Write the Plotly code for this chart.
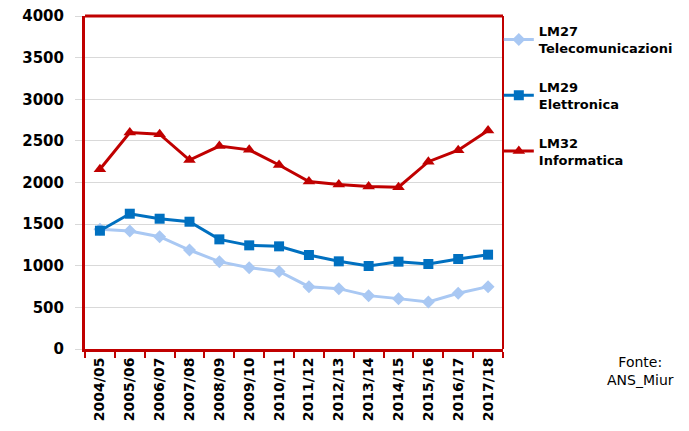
import plotly.graph_objects as go

categories = ["2004/05", "2005/06", "2006/07", "2007/08", "2008/09", "2009/10", "2010/11",
              "2011/12", "2012/13", "2013/14", "2014/15", "2015/16", "2016/17", "2017/18"]
lm27 = [1438, 1417, 1349, 1189, 1049, 977, 931, 749, 725, 641, 605, 565, 669, 749]
lm29 = [1421, 1625, 1565, 1529, 1317, 1245, 1233, 1129, 1053, 997, 1049, 1021, 1081, 1133]
lm32 = [2160, 2600, 2580, 2270, 2438, 2392, 2210, 2012, 1975, 1952, 1944, 2250, 2388, 2625]
names = ["LM27<br>Telecomunicazioni", "LM29<br>Elettronica", "LM32<br>Informatica"]

fig = go.Figure()
fig.add_trace(go.Scatter(x=categories, y=lm27, name=names[0], mode="lines+markers",
                         line=dict(color="#A9C8F3", width=3),
                         marker=dict(symbol="diamond", size=10, color="#A9C8F3"),
                         legendgroup="a"))
fig.add_trace(go.Scatter(x=categories, y=lm29, name=names[1], mode="lines+markers",
                         line=dict(color="#0070C0", width=3),
                         marker=dict(symbol="square", size=10, color="#0070C0"),
                         legendgroup="b"))
fig.add_trace(go.Scatter(x=categories, y=lm32, name=names[2], mode="lines+markers",
                         line=dict(color="#C00000", width=3),
                         marker=dict(symbol="triangle-up", size=11, color="#C00000"),
                         legendgroup="c"))

fig.update_layout(
    width=689, height=431,
    margin=dict(l=77, r=194, t=8, b=90, autoexpand=False),
    paper_bgcolor="white", plot_bgcolor="white",
    font=dict(family="DejaVu Sans", color="black"),
    legend=dict(x=0.99, y=1.0, xanchor="left", yanchor="top",
                font=dict(family="DejaVu Sans", size=13, color="black", weight="bold"),
                tracegroupgap=19, traceorder="grouped", itemwidth=30,
                bgcolor="rgba(0,0,0,0)"),
    xaxis=dict(type="category", range=[-0.5, len(categories) - 0.5],
               showgrid=False, showline=True, linecolor="#C00000", linewidth=3,
               ticks="outside", tickcolor="#C00000", ticklen=6, tickwidth=2,
               tickson="boundaries", tickangle=-90, automargin=False,
               ticklabeloverflow="allow",
               tickfont=dict(family="DejaVu Sans", size=14, color="black", weight="bold")),
    yaxis=dict(range=[0, 4000], dtick=500, showgrid=True, gridcolor="#D9D9D9", gridwidth=1,
               showline=True, linecolor="#C00000", linewidth=3, zeroline=False,
               ticks="outside", tickcolor="#D9D9D9", ticklen=7, automargin=False,
               ticklabelstandoff=8, ticklabeloverflow="allow",
               tickfont=dict(family="DejaVu Sans", size=15, color="black", weight="bold")),
    shapes=[
        dict(type="line", xref="paper", yref="paper", x0=0, x1=1, y0=1, y1=1,
             line=dict(color="#C00000", width=3)),
        dict(type="line", xref="paper", yref="paper", x0=1, x1=1, y0=0, y1=1,
             line=dict(color="#C00000", width=2)),
    ],
    annotations=[dict(text="Fonte:<br>ANS_Miur", xref="paper", yref="paper",
                      x=1.33, y=-0.009, xanchor="center", yanchor="top", showarrow=False,
                      font=dict(family="DejaVu Sans", size=14, color="black"))],
)

fig.write_html("out.html")
